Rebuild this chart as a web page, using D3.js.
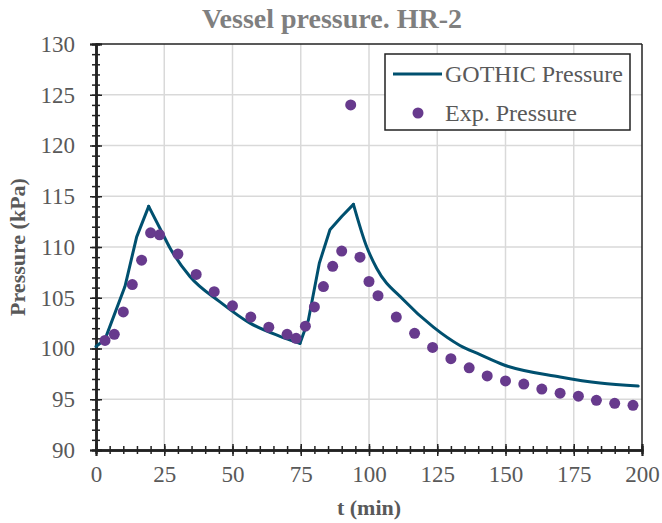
<!DOCTYPE html>
<html>
<head>
<meta charset="utf-8">
<script src="https://cdn.jsdelivr.net/npm/d3@7"></script>
<style>
  body { margin: 0; background: #fff; }
  text { font-family: "Liberation Serif", "Times New Roman", serif; }
</style>
</head>
<body>
<div id="chart"></div>
<script>
// GOTHIC simulation curve
const gothicTime = [0, 3.3, 10.6, 14.9, 19.3, 23.5, 27.1, 34.4, 45.4, 56.4, 67.4, 74.7, 77.8, 81.8, 85.7, 90.0, 94.3, 98.9, 102.8, 112.6, 123.6, 133.3, 140.7, 149.2, 170, 184.6, 198.6]
const gothicPressure = [100.2, 100.9, 106.1, 111.0, 114.0, 111.8, 109.9, 107.1, 104.6, 102.5, 101.2, 100.5, 102.8, 108.4, 111.7, 113.0, 114.2, 110.2, 107.9, 104.8, 102.1, 100.3, 99.4, 98.4, 97.2, 96.6, 96.3]
// indices where the curve turns (peaks and valley)
const turns = [0, 4, 11, 16, gothicTime.length - 1]

// experimental points
const expTime = [3.3, 6.7, 10, 13.3, 16.7, 20, 23.3, 30, 36.7, 43.3, 50, 56.7, 63.3, 70, 73.3, 76.7, 80, 83.3, 86.7, 90, 93.3, 96.7, 100, 103.3, 110, 116.7, 123.3, 130, 136.7, 143.3, 150, 156.7, 163.3, 170, 176.7, 183.3, 190, 196.7]
const expPressure = [100.8, 101.4, 103.6, 106.3, 108.7, 111.4, 111.2, 109.3, 107.3, 105.6, 104.2, 103.1, 102.1, 101.4, 101.0, 102.2, 104.1, 106.1, 108.1, 109.6, 124.0, 109.0, 106.6, 105.2, 103.1, 101.5, 100.1, 99.0, 98.1, 97.3, 96.8, 96.5, 96.0, 95.6, 95.3, 94.9, 94.6, 94.4]

const xTicks = [0, 25, 50, 75, 100, 125, 150, 175, 200]
const yTicks = [90, 95, 100, 105, 110, 115, 120, 125, 130]

const seriesNames = ["GOTHIC Pressure", "Exp. Pressure"]
const lineColor = "#00506f"
const dotColor = "#673a8d"
const textColor = "#595959"
const titleColor = "#7f7f7f"

const width = 662, height = 523
const margin = { left: 96, right: 20, top: 44, bottom: 73 }
const w = width - margin.left - margin.right
const h = height - margin.top - margin.bottom

const svg = d3.select("#chart").append("svg")
    .attr("width", width)
    .attr("height", height)

const view = svg.append("g")
    .attr("transform", "translate(" + margin.left + "," + margin.top + ")")

const x = d3.scaleLinear().domain([0, 200]).range([0, w])
const y = d3.scaleLinear().domain([90, 130]).range([h, 0])

// gridlines
view.append("g")
    .selectAll("line.gy")
    .data(yTicks.slice(1, -1))
    .enter().append("line")
    .attr("x1", 0).attr("x2", w)
    .attr("y1", d => y(d)).attr("y2", d => y(d))
    .attr("stroke", "#d9d9d9").attr("stroke-width", 1.5)

view.append("g")
    .selectAll("line.gx")
    .data(xTicks.slice(1, -1))
    .enter().append("line")
    .attr("x1", d => x(d)).attr("x2", d => x(d))
    .attr("y1", 0).attr("y2", h)
    .attr("stroke", "#d9d9d9").attr("stroke-width", 1.5)

// frame top & right
view.append("line").attr("x1", 0).attr("x2", w).attr("y1", 0).attr("y2", 0)
    .attr("stroke", "#222").attr("stroke-width", 1.5)
view.append("line").attr("x1", w).attr("x2", w).attr("y1", 0).attr("y2", h)
    .attr("stroke", "#222").attr("stroke-width", 1.5)

// crossing ticks: draw each axis on both sides
function styleAxis(g) {
    g.selectAll("path").attr("stroke", "#222").attr("stroke-width", 2)
    g.selectAll("line").attr("stroke", "#222").attr("stroke-width", 1.5)
    g.selectAll("text")
        .attr("fill", textColor)
        .style("font-size", "23px")
        .style("font-family", "'Liberation Serif', serif")
}

const yMinor = d3.range(90, 131, 1)
const xMinor = d3.range(0, 201, 5)

view.append("g").call(d3.axisLeft(y).tickValues(yMinor).tickSize(4).tickFormat(""))
    .call(styleAxis)
view.append("g").call(d3.axisRight(y).tickValues(yMinor).tickSize(4).tickFormat(""))
    .call(styleAxis)
view.append("g").call(d3.axisRight(y).tickValues(yTicks).tickSize(6).tickFormat(""))
    .call(styleAxis)
view.append("g").call(d3.axisLeft(y).tickValues(yTicks).tickSize(6).tickPadding(15))
    .call(styleAxis)

view.append("g").attr("transform", "translate(0," + h + ")")
    .call(d3.axisTop(x).tickValues(xMinor).tickSize(4).tickFormat(""))
    .call(styleAxis)
view.append("g").attr("transform", "translate(0," + h + ")")
    .call(d3.axisBottom(x).tickValues(xMinor).tickSize(4).tickFormat(""))
    .call(styleAxis)
view.append("g").attr("transform", "translate(0," + h + ")")
    .call(d3.axisTop(x).tickValues(xTicks).tickSize(6).tickFormat(""))
    .call(styleAxis)
view.append("g").attr("transform", "translate(0," + h + ")")
    .call(d3.axisBottom(x).tickValues(xTicks).tickSize(6).tickPadding(10))
    .call(styleAxis)

// GOTHIC line: rises drawn straight, decays smoothed
const lineData = gothicTime.map((t, i) => ({ t: t, p: gothicPressure[i] }))
const lineGroup = view.append("g")
for (let s = 0; s < turns.length - 1; s++) {
    const seg = lineData.slice(turns[s], turns[s + 1] + 1)
    const rising = seg[seg.length - 1].p > seg[0].p
    lineGroup.append("path")
        .datum(seg)
        .attr("fill", "none")
        .attr("stroke", lineColor)
        .attr("stroke-width", 3)
        .attr("stroke-linejoin", "round")
        .attr("stroke-linecap", "round")
        .attr("d", d3.line()
            .curve(rising ? d3.curveLinear : d3.curveMonotoneX)
            .x(d => x(d.t)).y(d => y(d.p)))
}

// experimental dots
const expData = expTime.map((t, i) => ({ t: t, p: expPressure[i] }))
view.selectAll(".dot")
    .data(expData)
    .enter().append("circle")
    .attr("class", "dot")
    .attr("r", 5.5)
    .attr("cx", d => x(d.t))
    .attr("cy", d => y(d.p))
    .attr("fill", dotColor)

// title
svg.append("text")
    .attr("x", 332).attr("y", 28)
    .attr("text-anchor", "middle")
    .attr("fill", titleColor)
    .style("font-size", "28px")
    .style("font-weight", "bold")
    .text("Vessel pressure. HR-2")

// axis titles
svg.append("text")
    .attr("x", margin.left + w / 2).attr("y", 515)
    .attr("text-anchor", "middle")
    .attr("fill", textColor)
    .style("font-size", "22px")
    .style("font-weight", "bold")
    .text("t (min)")

svg.append("text")
    .attr("transform", "translate(25," + (margin.top + h / 2) + ") rotate(-90)")
    .attr("text-anchor", "middle")
    .attr("fill", textColor)
    .style("font-size", "22px")
    .style("font-weight", "bold")
    .text("Pressure (kPa)")

// legend
const legend = svg.append("g").attr("transform", "translate(385,54)")
legend.append("rect")
    .attr("width", 245).attr("height", 76)
    .attr("fill", "#fff").attr("stroke", "#222").attr("stroke-width", 1.5)

legend.append("line")
    .attr("x1", 8).attr("x2", 57).attr("y1", 20).attr("y2", 20)
    .attr("stroke", lineColor).attr("stroke-width", 3)
legend.append("circle")
    .attr("cx", 33).attr("cy", 59).attr("r", 5.5)
    .attr("fill", dotColor)

legend.selectAll(".ltext")
    .data(seriesNames)
    .enter().append("text")
    .attr("class", "ltext")
    .attr("x", 60)
    .attr("y", (d, i) => 28 + i * 39)
    .attr("fill", textColor)
    .style("font-size", "24px")
    .text(d => d)
</script>
</body>
</html>
